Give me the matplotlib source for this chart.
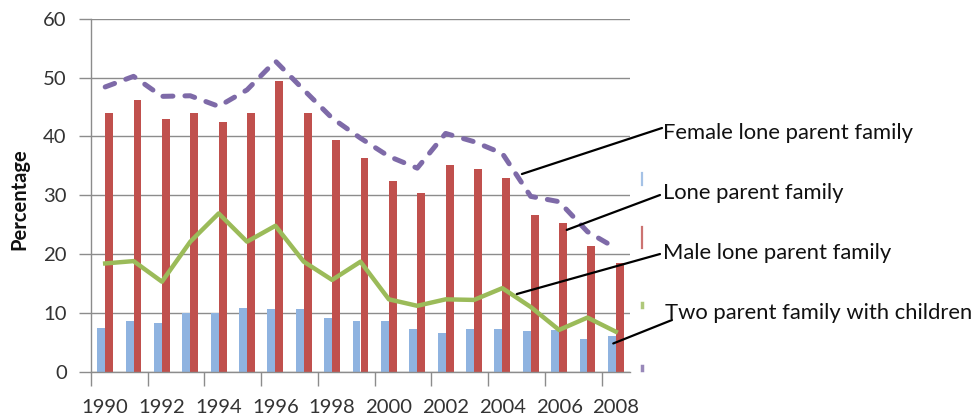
import matplotlib
matplotlib.use("Agg")
import matplotlib.pyplot as plt
import numpy as np

plt.rcParams['font.family'] = ['Lato', 'DejaVu Sans']

years = [1990, 1991, 1992, 1993, 1994, 1995, 1996, 1997, 1998, 1999,
         2000, 2001, 2002, 2003, 2004, 2005, 2006, 2007, 2008]
two_parent = [7.5, 8.7, 8.3, 9.9, 9.9, 10.9, 10.7, 10.7, 9.1, 8.7,
              8.7, 7.3, 6.6, 7.3, 7.3, 6.9, 7.1, 5.6, 6.1]
lone_parent = [43.9, 46.1, 43.0, 43.9, 42.5, 44.0, 49.4, 44.0, 39.4, 36.3,
               32.4, 30.3, 35.2, 34.4, 32.9, 26.7, 25.3, 21.4, 18.5]
male_lone = [18.4, 18.8, 15.3, 22.1, 26.9, 22.1, 24.8, 18.7, 15.6, 18.7,
             12.3, 11.2, 12.3, 12.2, 14.2, 11.0, 7.1, 9.2, 6.8]
female_lone = [48.4, 50.2, 46.8, 46.9, 45.1, 47.9, 52.8, 47.9, 43.1, 39.7,
               36.6, 34.6, 40.5, 39.1, 37.1, 29.8, 28.9, 23.8, 21.0]
tick_labels = [str(y) for y in years[::2]]

blue = '#8fb3e0'
red = '#c0504d'
green = '#9bbb59'
purple = '#7e6aa8'
grid_gray = '#8c8c8c'

W, H = 977, 418
fig = plt.figure(figsize=(W / 100, H / 100), dpi=100)
ax = fig.add_axes([91 / W, 46.3 / H, 539 / W, 353 / H])

x = np.arange(len(years))
bw = 0.28
ax.bar(x - bw / 2, two_parent, width=bw, color=blue, zorder=2)
ax.bar(x + bw / 2, lone_parent, width=bw, color=red, zorder=2)
ax.plot(x, male_lone, color=green, lw=3.2, zorder=3)
ax.plot(x, female_lone, color=purple, lw=3.6, zorder=3,
        dashes=(2.0, 2.4), dash_capstyle='round')

ax.set_xlim(-0.5, len(years) - 0.5)
ax.set_ylim(0, 60)
ax.set_yticks(range(0, 61, 10))
ax.yaxis.grid(True, color=grid_gray, lw=1.0, zorder=0)
ax.set_axisbelow(True)

for s in ['top', 'right']:
    ax.spines[s].set_visible(False)
for s in ['left', 'bottom']:
    ax.spines[s].set_color(grid_gray)
    ax.spines[s].set_linewidth(1.0)

# tick marks sit on category boundaries, every two years
ax.set_xticks(np.arange(-0.5, len(years) - 0.5, 2))
ax.set_xticklabels([])
ax.set_xticks(x[::2], minor=True)
ax.set_xticklabels(tick_labels, minor=True)
for lbl in ax.get_xticklabels(minor=True):
    lbl.set_verticalalignment('baseline')
ax.tick_params(axis='x', which='major', length=10, color=grid_gray, width=1)
ax.tick_params(axis='x', which='minor', length=0, pad=29.8, labelsize=14.6,
               labelcolor='#333333')
ax.tick_params(axis='y', length=9, color=grid_gray, width=1, pad=8.5,
               labelsize=14.6, labelcolor='#333333')

ax.set_ylabel('Percentage', fontsize=14.5, fontweight='bold', color='#111111')
ax.yaxis.set_label_coords(-0.115, 0.49)

# series callouts: (label, leader start in data coords, leader end px, text pos px)
callouts = [
    ('Female lone parent family', (14.69, 33.6), (662, 128), (663, 133)),
    ('Lone parent family', (16.27, 24.1), (660, 195), (663, 193)),
    ('Male lone parent family', (14.51, 13.2), (660, 254), (663, 253)),
    ('Two parent family with children', (17.91, 4.8), (672, 320), (665, 313)),
]
for text, xy, end_px, txt_px in callouts:
    ax.annotate('', xy=xy, xycoords='data',
                xytext=(end_px[0] / W, 1 - end_px[1] / H),
                textcoords='figure fraction',
                arrowprops=dict(arrowstyle='-', color='black', lw=1.6,
                                shrinkA=0, shrinkB=0),
                annotation_clip=False)
    fig.text(txt_px[0] / W, 1 - txt_px[1] / H, text, ha='left', va='center',
             fontsize=15.8, color='#111111')

# clipped legend keys at the right edge
keys = [(blue, 173, 185, 1.6), (red, 227, 248, 1.6),
        (green, 303, 307, 2.5), (purple, 366, 370, 2.5)]
for c, y0, y1, w in keys:
    fig.add_artist(plt.Line2D([642 / W, 642 / W], [1 - y0 / H, 1 - y1 / H],
                              color=c, lw=w, alpha=0.8,
                              transform=fig.transFigure))

fig.savefig('out.png', dpi=100)
